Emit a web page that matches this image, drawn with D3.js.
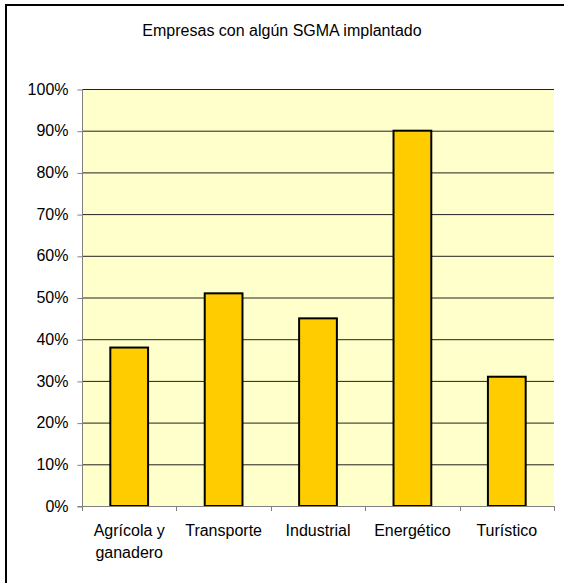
<!DOCTYPE html>
<html>
<head>
<meta charset="utf-8">
<script src="https://cdn.jsdelivr.net/npm/d3@7"></script>
<style>
  body { margin: 0; background: #fff; }
  text { font-family: Arial, "Liberation Sans", sans-serif; fill: #000; }
</style>
</head>
<body>
<svg width="564" height="583"></svg>
<script>
// chart data
var title = "Empresas con algún SGMA implantado"
var categories = [["Agrícola y", "ganadero"], ["Transporte"], ["Industrial"], ["Energético"], ["Turístico"]]
var values = [38, 51, 45, 90, 31]
var yTicks = [0, 10, 20, 30, 40, 50, 60, 70, 80, 90, 100]

var screen = {width: 564, height: 583}
var margins = {top: 89, right: 10, bottom: 77, left: 82}
var width = screen.width - margins.left - margins.right
var height = screen.height - margins.top - margins.bottom

var svg = d3.select("svg")

// outer chart frame (only top and left visible)
svg.append("rect")
    .attr("x", 6)
    .attr("y", 5)
    .attr("width", 700)
    .attr("height", 700)
    .attr("fill", "none")
    .attr("stroke", "#000")
    .attr("stroke-width", 2)

svg.append("text")
    .attr("x", 282)
    .attr("y", 36)
    .attr("text-anchor", "middle")
    .style("font-size", "16px")
    .text(title)

var g = svg.append("g")
    .attr("transform", "translate(" + margins.left + "," + margins.top + ")")

var xScale = d3.scaleBand()
    .domain(d3.range(categories.length))
    .range([0, width])

var yScale = d3.scaleLinear()
    .domain([0, 100])
    .range([height, 0])

// plot background
g.append("rect")
    .attr("width", width)
    .attr("height", height)
    .attr("fill", "#FFFFCC")

// gridlines
g.selectAll(".grid")
    .data(yTicks.slice(1))
    .enter()
    .append("line")
    .attr("x1", 0)
    .attr("x2", width)
    .attr("y1", function(d) { return yScale(d) + 0.5 })
    .attr("y2", function(d) { return yScale(d) + 0.5 })
    .attr("stroke", "#222")
    .attr("stroke-width", 1)

// bars
var barW = xScale.bandwidth() * 0.4
g.selectAll(".bar")
    .data(values)
    .enter()
    .append("rect")
    .attr("x", function(d, i) { return xScale(i) + (xScale.bandwidth() - barW) / 2 })
    .attr("y", function(d) { return yScale(d) })
    .attr("width", barW)
    .attr("height", function(d) { return height - yScale(d) })
    .attr("fill", "#FFCC00")
    .attr("stroke", "#000")
    .attr("stroke-width", 2)

// y axis
var yAxis = d3.axisLeft(yScale)
    .tickValues(yTicks)
    .tickSize(5)
    .tickPadding(9)
    .tickFormat(function(d) { return d + "%" })

var yG = g.append("g").attr("transform", "translate(0.5,0)").call(yAxis)
yG.select(".domain").attr("stroke", "#808080").attr("d", "M-5," + (height + 0.5) + "H0V0")
yG.selectAll(".tick line").attr("stroke", "#808080").attr("transform", "translate(0,0.5)")
yG.selectAll(".tick text")
    .style("font-size", "16px")
    .style("font-family", "Arial, 'Liberation Sans', sans-serif")
    .attr("fill", "#000")

// x axis line and ticks at category boundaries
var bounds = d3.range(categories.length + 1).map(function(i) {
    return i < categories.length ? xScale(i) : width
})
g.append("line")
    .attr("x1", 0)
    .attr("x2", width)
    .attr("y1", height + 0.5)
    .attr("y2", height + 0.5)
    .attr("stroke", "#808080")
g.selectAll(".xtick")
    .data(bounds)
    .enter()
    .append("line")
    .attr("x1", function(d) { return Math.round(d) + 0.5 })
    .attr("x2", function(d) { return Math.round(d) + 0.5 })
    .attr("y1", height)
    .attr("y2", height + 5)
    .attr("stroke", "#808080")

// category labels
var labels = g.selectAll(".xlabel")
    .data(categories)
    .enter()
    .append("text")
    .attr("text-anchor", "middle")
    .attr("transform", function(d, i) {
        return "translate(" + (xScale(i) + xScale.bandwidth() / 2) + "," + (height + 30) + ")"
    })
    .style("font-size", "16px")

labels.selectAll("tspan")
    .data(function(d) { return d })
    .enter()
    .append("tspan")
    .attr("x", 0)
    .attr("dy", function(d, i) { return i == 0 ? 0 : 22 })
    .text(function(d) { return d })
</script>
</body>
</html>
